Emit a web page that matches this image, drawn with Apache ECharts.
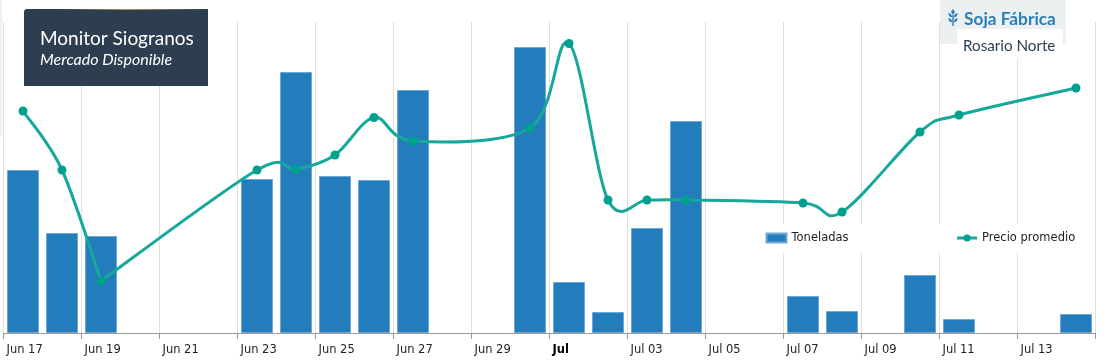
<!DOCTYPE html>
<html>
<head>
<meta charset="utf-8">
<style>html,body{margin:0;padding:0;background:#fff}#c{width:1111px;height:364px}</style>
<script src="https://cdn.jsdelivr.net/npm/echarts@6/dist/echarts.min.js"></script>
</head>
<body>
<div id="c"></div>
<script>
const days = ['Jun 17','Jun 18','Jun 19','Jun 20','Jun 21','Jun 22','Jun 23','Jun 24','Jun 25','Jun 26','Jun 27','Jun 28','Jun 29','Jun 30','Jul 01','Jul 02','Jul 03','Jul 04','Jul 05','Jul 06','Jul 07','Jul 08','Jul 09','Jul 10','Jul 11','Jul 12','Jul 13','Jul 14'];
const tickLabels = ['Jun 17','','Jun 19','','Jun 21','','Jun 23','','Jun 25','','Jun 27','','Jun 29','','Jul','','Jul 03','','Jul 05','','Jul 07','','Jul 09','','Jul 11','','Jul 13','',''];
const toneladas = [16300,10000,9700,null,null,null,15400,26100,15700,15300,24300,null,null,28600,5100,2100,10500,21200,null,null,3700,2200,null,5800,1400,null,null,1900];
const precio = [22220,21630,20520,null,null,null,21630,21635,21780,22155,21920,null,null,22050,22895,21330,21330,21330,null,null,21300,21210,null,22010,22180,null,null,22450];
const diasConQuiebre = ['Jun 19'];
const serieBarras = 'Toneladas';
const serieLinea = 'Precio promedio';
const tituloPrincipal = 'Monitor Siogranos';
const subtitulo = 'Mercado Disponible';
const marca = 'Soja Fábrica';
const plaza = 'Rosario Norte';

const chart = echarts.init(document.getElementById('c'), null, {renderer:'canvas'});
const axisFont = 'DejaVu Sans';
const verde = '#16a89b';
const leaf = (pts) => ({type:'polygon',z:32,shape:{points:pts},style:{fill:'#2980b9'}});
const puntos = precio.map((v,i)=>[i,v]).filter(p=>p[1]!=null);
const esQuiebre = k => diasConQuiebre.includes(days[puntos[k][0]]);
function tramo(params, api){
  const i = params.dataIndex;
  if (i >= puntos.length-1) return null;
  const c = k => api.coord(puntos[Math.max(0,Math.min(puntos.length-1,k))]);
  const p1=c(i), p2=c(i+1);
  const p0=esQuiebre(i)?p1:c(i-1);
  const p3=esQuiebre(i+1)?p2:c(i+2);
  return {type:'bezierCurve',silent:true,shape:{
    x1:p1[0],y1:p1[1],
    cpx1:p1[0]+(p2[0]-p0[0])/6, cpy1:p1[1]+(p2[1]-p0[1])/6,
    cpx2:p2[0]-(p3[0]-p1[0])/6, cpy2:p2[1]-(p3[1]-p1[1])/6,
    x2:p2[0],y2:p2[1]},
    style:{stroke:verde,lineWidth:3,fill:null,lineCap:'round',lineJoin:'round'}};
}
chart.setOption({
  animation:false,
  backgroundColor:'#fff',
  grid:{left:3.5,top:22,width:1092,height:311,containLabel:false},
  legend:{
    left:749.5, top:224, width:344,
    padding:[8,19,9,16],
    backgroundColor:'#fff',
    itemGap:107, itemWidth:20, itemHeight:9,
    selectedMode:false,
    textStyle:{fontFamily:axisFont,fontSize:11.5,color:'#222'},
    data:[{name:serieBarras,icon:'rect'},{name:serieLinea,lineStyle:{color:verde,width:3,opacity:1}}],
    z:20
  },
  xAxis:[
    {type:'category',data:days,boundaryGap:true,show:false},
    {type:'category',data:tickLabels.map(t=>t==='Jul'?{value:t,textStyle:{fontWeight:'bold',color:'#000',align:'left',padding:[0,0,0,3],fontFamily:axisFont,fontSize:11.5}}:t),
     position:'bottom',boundaryGap:false,
     axisLine:{show:true,lineStyle:{color:'#999',width:1}},
     axisTick:{show:true,interval:1,length:6,lineStyle:{color:'#999'}},
     splitLine:{show:true,interval:1,lineStyle:{color:'#e0e0e0',width:1}},
     axisLabel:{show:true,interval:0,align:'left',margin:11,padding:[0,0,0,3],fontFamily:axisFont,fontSize:11.5,color:'#222',hideOverlap:false}
    }
  ],
  yAxis:[
    {type:'value',min:0,max:31100,show:false,splitLine:{show:false}},
    {type:'value',min:20000,max:23110,show:false,splitLine:{show:false}}
  ],
  series:[
    {name:serieBarras,type:'bar',xAxisIndex:0,yAxisIndex:0,data:toneladas,barWidth:32,
     itemStyle:{color:'#237dbc',borderColor:'#6fa8d6',borderWidth:1},z:2},
    {name:'curva',type:'custom',xAxisIndex:0,yAxisIndex:1,data:puntos,renderItem:tramo,clip:false,silent:true,
     encode:{x:0,y:1},z:3},
    {name:serieLinea,type:'line',xAxisIndex:0,yAxisIndex:1,data:precio,connectNulls:true,
     symbol:'circle',symbolSize:9,
     lineStyle:{color:verde,width:3,opacity:0},
     itemStyle:{color:'#00a08f'},z:4}
  ],
  graphic:[
    {type:'rect',z:30,shape:{x:24,y:9,width:184,height:77,r:[3,0,0,0]},style:{fill:'#2c3e50'}},
    {type:'rect',z:31,shape:{x:60,y:9,width:148,height:1},style:{fill:{type:'linear',x:0,y:0,x2:1,y2:0,colorStops:[{offset:0,color:'#2c3e50'},{offset:0.45,color:'#b8905f'},{offset:1,color:'#2c3e50'}]}}},
    {type:'text',z:31,x:40,y:39,style:{text:tituloPrincipal,fill:'#fff',font:'19px Lato',textVerticalAlign:'middle'}},
    {type:'text',z:31,x:40,y:60,style:{text:subtitulo,fill:'#fff',font:'italic 16px Lato',textVerticalAlign:'middle'}},
    {type:'rect',z:30,shape:{x:940,y:0,width:126,height:44},style:{fill:'#ecf0f1'}},
    {type:'rect',z:31,shape:{x:957,y:29,width:106,height:30},style:{fill:'#fff'}},
    leaf([[953,9],[955,12],[953,15],[951,12]]),
    leaf([[948,13],[951,14],[952.5,17.5],[949.5,16.5]]),
    leaf([[958,13],[955,14],[953.5,17.5],[956.5,16.5]]),
    leaf([[948,18],[951,19],[952.5,22.5],[949.5,21.5]]),
    leaf([[958,18],[955,19],[953.5,22.5],[956.5,21.5]]),
    {type:'rect',z:32,shape:{x:952.3,y:15,width:1.4,height:11},style:{fill:'#2980b9'}},
    {type:'text',z:32,x:964,y:19,style:{text:marca,fill:'#2980b9',font:'bold 17.3px Lato',textVerticalAlign:'middle'}},
    {type:'text',z:32,x:963,y:46,style:{text:plaza,fill:'#2c3e50',font:'15.2px Lato',textVerticalAlign:'middle'}},
    {type:'rect',z:30,shape:{x:0,y:0,width:2,height:137},style:{fill:'#f0f0f0'}}
  ]
});
</script>
</body>
</html>
